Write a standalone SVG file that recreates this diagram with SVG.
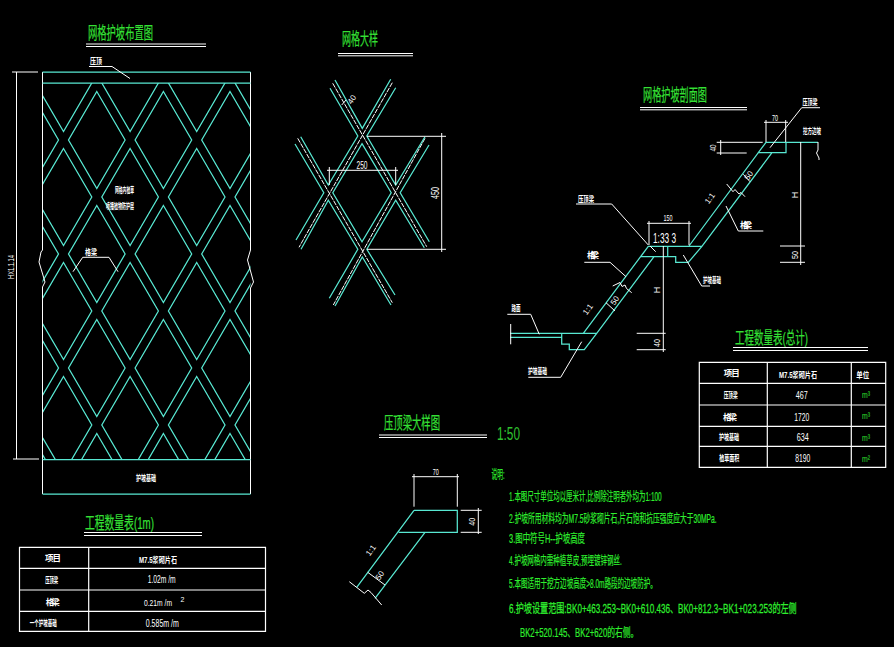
<svg xmlns="http://www.w3.org/2000/svg" xmlns:xlink="http://www.w3.org/1999/xlink" width="894" height="647" viewBox="0 0 894 647">
<style>
text{font-family:"Liberation Sans","Noto Sans CJK SC",sans-serif;text-anchor:middle}
.w{fill:none;stroke:#fff;stroke-width:1}
.t{fill:none;stroke:#58e8d2;stroke-width:1.250}
.d{fill:none;stroke:#fff;stroke-width:1;stroke-dasharray:5 1}
.g{fill:#2fe02f}
.ttl{fill:#35e035;font-size:17px;stroke:#35e035;stroke-width:.2}
.l{fill:#fff;font-size:8.5px;font-weight:700}
.n{fill:#fff;font-size:10px}
.nt{fill:#2fee2f;font-size:12.500px;text-anchor:start;stroke:#2fee2f;stroke-width:.2}
</style>
<defs>
<clipPath id="gridclip"><rect x="42.500" y="83" width="208" height="376.500"/></clipPath>
<polygon id="dia" class="t" points="0,-48.500 28.300,0 0,48.500 -28.300,0"/>
</defs>
<rect width="894" height="647" fill="#000"/>

<g id="layout-plan">
<text class="ttl" x="120.500" y="39" textLength="65" lengthAdjust="spacingAndGlyphs">网格护坡布置图</text>
<path class="w" d="M86 44H206M86 46.500H206"/>
<g clip-path="url(#gridclip)">
<use xlink:href="#dia" x="63.500" y="83"/><use xlink:href="#dia" x="130.100" y="83"/><use xlink:href="#dia" x="196.700" y="83"/><use xlink:href="#dia" x="263.300" y="83"/>
<use xlink:href="#dia" x="30.200" y="140"/><use xlink:href="#dia" x="96.800" y="140"/><use xlink:href="#dia" x="163.400" y="140"/><use xlink:href="#dia" x="230" y="140"/>
<use xlink:href="#dia" x="63.500" y="197"/><use xlink:href="#dia" x="130.100" y="197"/><use xlink:href="#dia" x="196.700" y="197"/><use xlink:href="#dia" x="263.300" y="197"/>
<use xlink:href="#dia" x="30.200" y="254"/><use xlink:href="#dia" x="96.800" y="254"/><use xlink:href="#dia" x="163.400" y="254"/><use xlink:href="#dia" x="230" y="254"/>
<use xlink:href="#dia" x="63.500" y="311"/><use xlink:href="#dia" x="130.100" y="311"/><use xlink:href="#dia" x="196.700" y="311"/><use xlink:href="#dia" x="263.300" y="311"/>
<use xlink:href="#dia" x="30.200" y="368"/><use xlink:href="#dia" x="96.800" y="368"/><use xlink:href="#dia" x="163.400" y="368"/><use xlink:href="#dia" x="230" y="368"/>
<use xlink:href="#dia" x="63.500" y="425"/><use xlink:href="#dia" x="130.100" y="425"/><use xlink:href="#dia" x="196.700" y="425"/><use xlink:href="#dia" x="263.300" y="425"/>
<use xlink:href="#dia" x="30.200" y="482"/><use xlink:href="#dia" x="96.800" y="482"/><use xlink:href="#dia" x="163.400" y="482"/><use xlink:href="#dia" x="230" y="482"/>
</g>
<path class="w" d="M42.500 72V250L41 252L39 262L45 282L42.500 287V494M250.500 72V250L247.500 260L253.500 282L250.500 288V494"/>
<path class="t" d="M42.500 72H250.500M42.500 83H250.500M42.500 459.500H250.500M42.500 494H250.500"/>
<path class="w" d="M12 72H38M16.500 72V459M13 459H39"/>
<text class="n" transform="translate(14 267) rotate(-90)" textLength="24" lengthAdjust="spacingAndGlyphs" style="font-size:9px">HX1.1.14</text>
<text class="l" x="96" y="64" textLength="12" lengthAdjust="spacingAndGlyphs">压顶</text>
<path class="w" d="M89 66.500H112L130 78.500"/>
<text class="l" x="124.500" y="193" textLength="19" lengthAdjust="spacingAndGlyphs">网格内植草</text>
<text class="l" x="120" y="209" textLength="28" lengthAdjust="spacingAndGlyphs">喷播植物防护层</text>
<text class="l" x="91" y="255" textLength="12" lengthAdjust="spacingAndGlyphs">格梁</text>
<path class="w" d="M73 271.700L82.700 257.300H109L118 271.700"/>
<text class="l" x="146" y="481" textLength="20" lengthAdjust="spacingAndGlyphs">护坡基础</text>
</g>

<g id="table-1m">
<text class="ttl" x="119.500" y="529" textLength="69" lengthAdjust="spacingAndGlyphs">工程数量表(1m)</text>
<path class="w" d="M84 532.500H202M84 535.500H202"/>
<path class="w" style="stroke-width:1.200" d="M19.500 547.300H265.500V631.300H19.500ZM19.500 568.300H265.500M19.500 590H265.500M19.500 611.300H265.500M88.700 547.300V631.300"/>
<text class="l" x="53" y="561" textLength="16" lengthAdjust="spacing">项目</text>
<text class="l" x="158" y="563" textLength="38" lengthAdjust="spacingAndGlyphs">M7.5浆砌片石</text>
<text class="l" x="51.700" y="583" textLength="13" lengthAdjust="spacingAndGlyphs">压顶梁</text>
<text class="n" x="161.700" y="583" textLength="28" lengthAdjust="spacingAndGlyphs">1.02m /m</text>
<text class="l" x="52.700" y="605" textLength="14" lengthAdjust="spacing">格梁</text>
<text class="n" x="158" y="606" textLength="28" lengthAdjust="spacingAndGlyphs" style="font-size:9px">0.21m /m</text>
<text class="l" x="182.500" y="602" style="font-weight:400;font-size:7px">2</text>
<text class="l" x="43.300" y="626" textLength="27" lengthAdjust="spacingAndGlyphs">一个护坡基础</text>
<text class="n" x="162.300" y="627" textLength="33" lengthAdjust="spacingAndGlyphs">0.585m /m</text>
</g>

<g id="grid-detail">
<text class="ttl" x="360" y="45" textLength="36" lengthAdjust="spacingAndGlyphs">网格大样</text>
<path class="w" d="M338 53.500H413M338 55.800H413"/>
<path class="d" d="M332.700 83.300L426.700 246.700M392.300 82.700L299 247.300M297.700 138.300L392.300 302.700M425 138.300L333.300 305"/>
<path class="t" d="M362 143.600L391.200 192.700L362 241.700L332.800 192.700Z"/>
<path class="t" d="M330 88.300L357.800 136L328.300 185.100L300.700 136.700M295 144L323.800 192.700L296 240M301 249.300L328.300 200.300L357.800 249.300L329.300 298.300M335 306L362.300 256.900L391 305M395 295L366.800 249.300L395.700 200.300L424.300 247.700M429.300 241.700L400.200 192.700L429 145M425 136.700L395.700 185.100L366.800 136L395.700 87.700M390.700 79.300L362.300 128.400L335 80"/>
<path class="w" d="M367 136.300H446M367 249.300H446M441.700 133V252M329.300 185V167M395.700 185V167M327 170.300H398"/>
<path class="w" d="M341.700 105L346 100"/>
<text class="n" transform="translate(354 101) rotate(-55)" style="font-size:8px">40</text>
<text class="n" x="362" y="169" textLength="11" lengthAdjust="spacingAndGlyphs">250</text>
<text class="n" transform="translate(439 193) rotate(-90)" textLength="12" lengthAdjust="spacingAndGlyphs">450</text>
</g>

<g id="section">
<text class="ttl" x="675" y="101" textLength="64" lengthAdjust="spacingAndGlyphs">网格护坡剖面图</text>
<path class="w" d="M640 107.500H747M640 109.800H747"/>
<path class="t" d="M818 142.300H766L758.300 152.700H786V142.300M766 142.300L689 246M772 152.700L701.700 246.700L688.300 262.300H675.700V256.700H640.700L648.300 246.300H702.300M667.700 246.300V256.700M648.300 246.300L583.300 333.300M654 256.700L596.700 333.300L584.300 349.700H569.300V344H561.700V333.300M510 333.300H596.700M510 337.300H561.700"/>
<path class="w" d="M510.700 324V344.300M818 142V150L816.500 153L819 158V160"/>
<path class="w" d="M766 142V120M785.700 142V120M764 122.300H788M716.700 142.300H762.700M716.700 153H746.700M720.700 140V155M800.700 142V265M780 246H805M780 262.300H805M649 245V221M689 245V221M647 223.300H691M663.300 246V352M636.700 333.300H665.700M636.700 349.700H665.700M770 147.700L801.700 107.700H820M726 206L738.300 231H763.300M726.700 184L733 191.700L735 189.500L739 194L741 192.500L745 196.700M743.300 174.300L750 181.700M648.300 245L611.700 204H576M650 246L655.700 251.700M683.300 255L701.700 286H710M626 276.700L610 262.300H584.300M612.700 286L620 282.500L622 286.500L625 285L626.500 288.500L631.700 292.700M606 302.700L615 311M507.300 314.300H530.700L539.300 334.300M581.700 341.700L560.700 377.300H528.300"/>
<text class="l" x="810" y="105" textLength="15" lengthAdjust="spacingAndGlyphs">压顶梁</text>
<text class="l" x="812" y="134" textLength="18" lengthAdjust="spacingAndGlyphs">挖方边坡</text>
<text class="n" x="775" y="121" textLength="6" lengthAdjust="spacingAndGlyphs" style="font-size:9px">70</text>
<text class="n" transform="translate(716 148) rotate(-90)" textLength="7" lengthAdjust="spacingAndGlyphs" style="font-size:9px">40</text>
<text class="n" transform="translate(798 195) rotate(-90)" style="font-size:9px">H</text>
<text class="n" transform="translate(798 255) rotate(-90)" textLength="8" lengthAdjust="spacingAndGlyphs" style="font-size:9px">50</text>
<text class="n" transform="translate(712 200) rotate(-55)" style="font-size:8px">1:1</text>
<text class="n" transform="translate(751 177) rotate(-55)" style="font-size:8px">50</text>
<text class="l" x="746" y="228" textLength="12" lengthAdjust="spacing">格梁</text>
<text class="n" x="668" y="221" textLength="9" lengthAdjust="spacingAndGlyphs" style="font-size:9px">150</text>
<text class="n" x="664.500" y="243" textLength="23" lengthAdjust="spacingAndGlyphs" style="font-size:14px">1:33 3</text>
<text class="l" x="586" y="202" textLength="16" lengthAdjust="spacingAndGlyphs">压顶梁</text>
<text class="l" x="712" y="283" textLength="18" lengthAdjust="spacingAndGlyphs">护坡基础</text>
<text class="l" x="593" y="258" textLength="12" lengthAdjust="spacing">格梁</text>
<text class="n" transform="translate(617 302) rotate(-55)" style="font-size:8px">50</text>
<text class="n" transform="translate(590 311) rotate(-55)" style="font-size:8px">1:1</text>
<text class="l" x="516" y="311" textLength="9" lengthAdjust="spacingAndGlyphs">路面</text>
<text class="l" x="537.500" y="374" textLength="19" lengthAdjust="spacingAndGlyphs">护坡基础</text>
<text class="n" transform="translate(660 290) rotate(-90)" style="font-size:9px">H</text>
<text class="n" transform="translate(660 343) rotate(-90)" textLength="8" lengthAdjust="spacingAndGlyphs" style="font-size:9px">40</text>
</g>

<g id="table-total">
<text class="ttl" x="771.500" y="344" textLength="73" lengthAdjust="spacingAndGlyphs">工程数量表(总计)</text>
<path class="w" d="M733 347.500H868M733 350.500H868"/>
<path class="w" style="stroke-width:1.200" d="M699.300 362.300H885.700V467.300H699.300ZM699.300 383.300H885.700M699.300 405H885.700M699.300 426.300H885.700M699.300 446.300H885.700M767.300 362.300V467.300M851.300 362.300V467.300"/>
<text class="l" x="731.700" y="376" textLength="16" lengthAdjust="spacing">项目</text>
<text class="l" x="798" y="378" textLength="38" lengthAdjust="spacingAndGlyphs">M7.5浆砌片石</text>
<text class="l" x="862.700" y="378" textLength="13" lengthAdjust="spacingAndGlyphs">单位</text>
<text class="l" x="730.700" y="398" textLength="14" lengthAdjust="spacingAndGlyphs">压顶梁</text>
<text class="n" x="801.700" y="399" textLength="12" lengthAdjust="spacingAndGlyphs">467</text>
<text class="l" x="730" y="420" textLength="14" lengthAdjust="spacing">格梁</text>
<text class="n" x="801.700" y="421" textLength="15" lengthAdjust="spacingAndGlyphs">1720</text>
<text class="l" x="729" y="440" textLength="20" lengthAdjust="spacingAndGlyphs">护坡基础</text>
<text class="n" x="802.700" y="441" textLength="12" lengthAdjust="spacingAndGlyphs">634</text>
<text class="l" x="729.300" y="461" textLength="20" lengthAdjust="spacingAndGlyphs">植草面积</text>
<text class="n" x="802.700" y="462" textLength="15" lengthAdjust="spacingAndGlyphs">8190</text>
<text class="g" x="866" y="398" style="font-size:9px" textLength="8" lengthAdjust="spacingAndGlyphs">m³</text>
<text class="g" x="866" y="419" style="font-size:9px" textLength="8" lengthAdjust="spacingAndGlyphs">m³</text>
<text class="g" x="866" y="441" style="font-size:9px" textLength="8" lengthAdjust="spacingAndGlyphs">m³</text>
<text class="g" x="866" y="462" style="font-size:9px" textLength="8" lengthAdjust="spacingAndGlyphs">m²</text>
</g>

<g id="cap-beam-detail">
<text class="ttl" x="412" y="429" textLength="56" lengthAdjust="spacingAndGlyphs">压顶梁大样图</text>
<path class="w" d="M379 435H487M379 437.500H487"/>
<text x="508.500" y="440" textLength="23" lengthAdjust="spacingAndGlyphs" style="fill:#2fc02f;font-size:18px">1:50</text>
<path class="t" d="M414 510.300H457.300V532.300H398.700M414 510.300L356.700 587.300M425 532.300L375 598.300"/>
<path class="w" d="M414 474V506.700M457.300 474V506.700M412 476.700H459M460.700 510.300H481.700M460.700 532.300H481.700M478.300 508V534M349.300 581.700L364.300 593.300L368 590L371 592.500L381.700 605M367.700 572.300L385 585"/>
<text class="n" x="435.700" y="475" textLength="6" lengthAdjust="spacingAndGlyphs" style="font-size:9px">70</text>
<text class="n" transform="translate(475 521.700) rotate(-90)" textLength="8" lengthAdjust="spacingAndGlyphs" style="font-size:9px">40</text>
<text class="n" transform="translate(373 552) rotate(-55)" style="font-size:8px">1:1</text>
<text class="n" transform="translate(382 577) rotate(-55)" style="font-size:8px">50</text>
</g>

<g id="notes">
<text class="nt" x="491.500" y="479" textLength="13" lengthAdjust="spacingAndGlyphs">说明:</text>
<text class="nt" x="509" y="500.500" textLength="152.700" lengthAdjust="spacingAndGlyphs">1.本图尺寸单位均以厘米计,比例除注明者外均为1:100</text>
<text class="nt" x="509" y="523" textLength="207.700" lengthAdjust="spacingAndGlyphs">2.护坡所用材料均为M7.5砂浆砌片石,片石饱和抗压强度应大于30MPa.</text>
<text class="nt" x="509" y="543" textLength="76" lengthAdjust="spacingAndGlyphs">3.图中符号H--护坡高度</text>
<text class="nt" x="509" y="565" textLength="112.700" lengthAdjust="spacingAndGlyphs">4.护坡网格内需种植草皮,预埋镀锌钢丝.</text>
<text class="nt" x="509" y="588" textLength="147.700" lengthAdjust="spacingAndGlyphs">5.本图适用于挖方边坡高度&gt;8.0m路段的边坡防护。</text>
<text class="nt" transform="translate(509 612.500) scale(1 1.250)" x="0" y="0" textLength="287.700" lengthAdjust="spacingAndGlyphs" style="font-size:10px">6.护坡设置范围:BK0+463.253~BK0+610.436、BK0+812.3~BK1+023.253的左侧</text>
<text class="nt" x="520" y="636.500" textLength="118.300" lengthAdjust="spacingAndGlyphs">BK2+520.145、BK2+620的右侧。</text>
</g>
</svg>
